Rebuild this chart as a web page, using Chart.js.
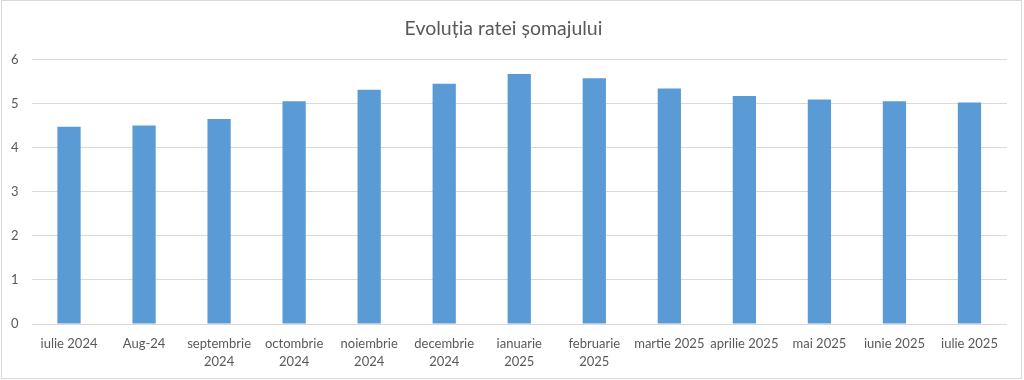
<!DOCTYPE html>
<html><head><meta charset="utf-8">
<script src="https://cdn.jsdelivr.net/npm/chart.js@4/dist/chart.umd.min.js"></script>
<style>html,body{margin:0;padding:0;background:#fff}#wrap{width:1024px;height:380px;position:relative}</style>
</head><body><div id="wrap"><canvas id="c" width="1024" height="380"></canvas></div>
<script>
const chartTitle = 'Evoluția ratei șomajului';
const categories = [
  'iulie 2024', 'Aug-24', ['septembrie', '2024'], ['octombrie', '2024'], ['noiembrie', '2024'],
  ['decembrie', '2024'], ['ianuarie', '2025'], ['februarie', '2025'], 'martie 2025',
  'aprilie 2025', 'mai 2025', 'iunie 2025', 'iulie 2025'
];
const rates = [4.47, 4.5, 4.65, 5.05, 5.31, 5.45, 5.67, 5.57, 5.34, 5.17, 5.09, 5.05, 5.02];
const yTicks = [0, 1, 2, 3, 4, 5, 6];

const frame = {
  id: 'frame',
  beforeDraw(c) {
    const ctx = c.ctx; ctx.save();
    ctx.fillStyle = '#fff'; ctx.fillRect(0, 0, c.width, c.height);
    ctx.strokeStyle = '#d9d9d9'; ctx.lineWidth = 1;
    ctx.strokeRect(1.5, 0.5, 1020, 378);
    ctx.restore();
  }
};
const FONT = 'Lato, "Open Sans", sans-serif';
new Chart(document.getElementById('c'), {
  type: 'bar',
  data: { labels: categories, datasets: [{ data: rates, backgroundColor: '#5b9bd5', borderWidth: 0, barPercentage: 0.31, categoryPercentage: 1 }] },
  options: {
    responsive: false, animation: false, devicePixelRatio: 1,
    layout: { padding: { left: 0, right: 17, top: 0, bottom: 0 } },
    plugins: {
      legend: { display: false }, tooltip: { enabled: false },
      title: { display: true, text: chartTitle, color: '#595959', font: { family: FONT, size: 19.5, weight: 'normal' }, padding: { top: 17, bottom: 19 } }
    },
    scales: {
      x: {
        grid: { display: false }, border: { display: false },
        ticks: { color: '#595959', font: { family: FONT, size: 13, lineHeight: 1.4 }, maxRotation: 0, autoSkip: false, padding: 3 },
        afterFit(s) { s.height = 56; }
      },
      y: {
        min: 0, max: 6,
        afterBuildTicks(s) { s.ticks = yTicks.map(v => ({ value: v })); },
        grid: { color: '#d9d9d9', drawTicks: false }, border: { display: false },
        ticks: { color: '#595959', font: { family: FONT, size: 13 }, padding: 13 },
        afterFit(s) { s.width = 31.5; }
      }
    }
  },
  plugins: [frame]
});
</script></body></html>
